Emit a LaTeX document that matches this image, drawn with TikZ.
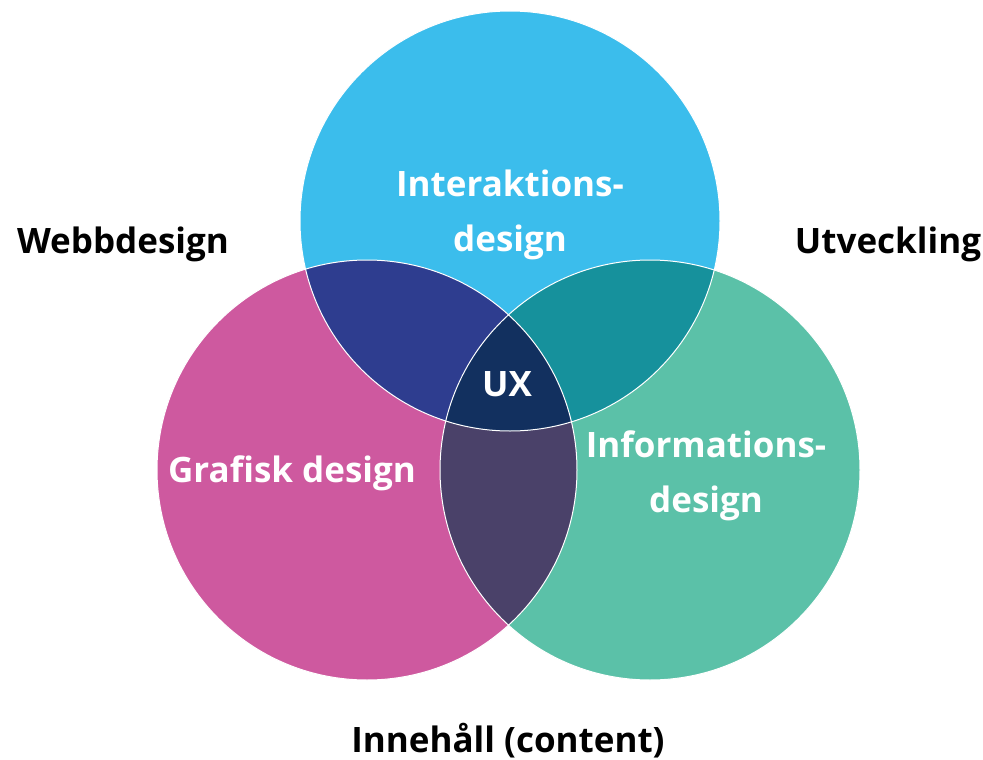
\documentclass[tikz,border=0pt]{standalone}
\usepackage{fontspec}
\setmainfont{Open Sans}
\usetikzlibrary{positioning,calc}
\definecolor{ixblue}{HTML}{3BBDEC}
\definecolor{grpink}{HTML}{CE599F}
\definecolor{inteal}{HTML}{5BC1A8}
\definecolor{webnavy}{HTML}{2E3D8F}
\definecolor{devteal}{HTML}{16919C}
\definecolor{conplum}{HTML}{4A4169}
\definecolor{uxnavy}{HTML}{12305F}

\begin{document}
\begin{tikzpicture}[x=1pt,y=-1pt]
\tikzstyle{inner}=[font=\fontsize{35}{55}\selectfont\bfseries,text=white,align=center]
\tikzstyle{outer}=[font=\fontsize{35}{55}\selectfont\bfseries,text=black]
\tikzstyle{rim}=[draw=white,line width=1pt]
%
\useasboundingbox (0,0) rectangle (983,760);
\coordinate (ctop) at (510,221);
\coordinate (cleft) at (367,470);
\coordinate (cright) at (650,470);
%
\fill[ixblue] (ctop) circle (210pt);
\fill[grpink] (cleft) circle (210pt);
\fill[inteal] (cright) circle (210pt);
\begin{scope}
  \clip (cleft) circle (210pt);
  \fill[conplum] (cright) circle (210pt);
\end{scope}
\begin{scope}
  \clip (ctop) circle (210pt);
  \fill[webnavy] (cleft) circle (210pt);
  \fill[devteal] (cright) circle (210pt);
  \clip (cleft) circle (210pt);
  \fill[uxnavy] (cright) circle (210pt);
\end{scope}
\path[rim] (ctop) circle (210pt);
\path[rim] (cleft) circle (210pt);
\path[rim] (cright) circle (210pt);
%
\node[inner] (interaktion) at (510,215) {Interaktions-\\design};
\node[inner] (grafisk) at (292,473) {Grafisk design};
\node[inner] (information) at (706,476) {Informations-\\design};
\node[inner] (ux) at (507,384) {UX};
\node[outer] (webb) at (123,244) {Webbdesign};
\node[outer] (utveckling) at (888,244) {Utveckling};
\node[outer] (innehall) at (508,741) {Innehåll (content)};
\end{tikzpicture}
\end{document}
